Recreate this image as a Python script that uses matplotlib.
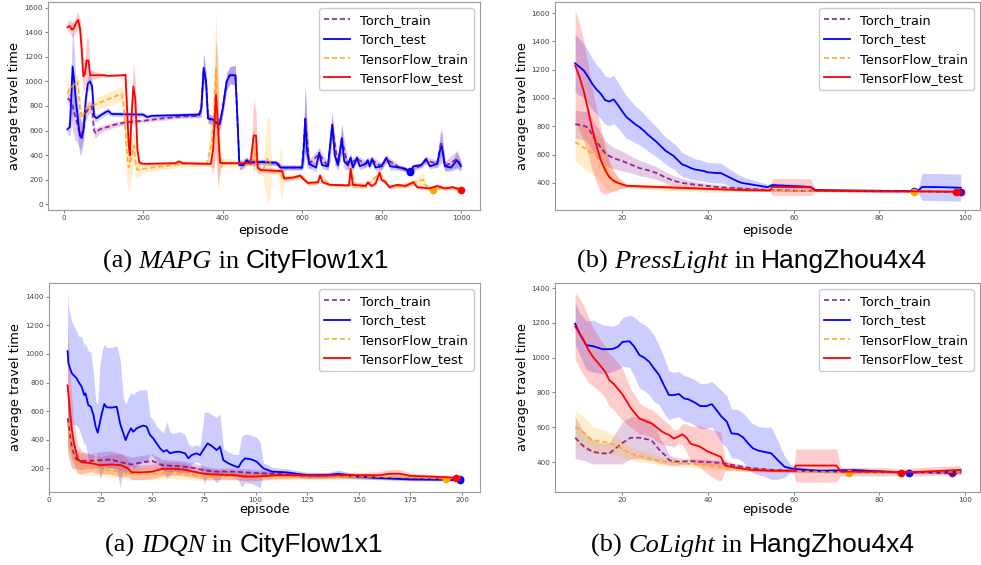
import matplotlib
matplotlib.use('Agg')
import matplotlib.pyplot as plt

# ---- data: (episode, mean, spread) ----
labels = ['Torch_train', 'Torch_test', 'TensorFlow_train', 'TensorFlow_test']
colors = ['purple', 'blue', 'orange', 'red']
styles = ['--', '-', '--', '-']

mapg_torch_train = [(9, 860, 40), (15, 850, 60), (22, 800, 200), (28, 720, 200), (35, 640, 150),
                    (42, 560, 120), (48, 600, 80), (55, 740, 60), (62, 780, 50), (70, 800, 40),
                    (76, 600, 40), (80, 580, 40), (90, 610, 30), (100, 620, 25), (130, 650, 20),
                    (160, 670, 20), (200, 680, 15), (250, 700, 15), (300, 715, 15), (340, 720, 15),
                    (346, 760, 50), (352, 1100, 120), (358, 1000, 80), (363, 700, 40), (385, 660, 40),
                    (392, 650, 50), (400, 780, 60), (410, 1000, 70), (418, 1050, 70), (432, 1050, 80),
                    (437, 700, 60), (442, 320, 40), (460, 350, 30), (500, 345, 20), (540, 330, 20),
                    (548, 300, 20), (600, 300, 20), (608, 690, 280), (618, 330, 40), (643, 410, 50),
                    (665, 310, 30), (676, 640, 90), (690, 320, 40), (700, 530, 120), (715, 320, 40),
                    (738, 370, 30), (760, 330, 30), (776, 360, 30), (800, 310, 30), (812, 370, 30),
                    (845, 300, 20), (872, 270, 20), (900, 320, 20), (912, 360, 30), (940, 330, 30),
                    (950, 510, 120), (960, 310, 40), (990, 370, 70), (1000, 320, 40)]
mapg_torch_test = [(9, 610, 40), (15, 630, 80), (19, 900, 250), (22, 1120, 380), (26, 1000, 250),
                   (30, 850, 150), (35, 700, 150), (40, 560, 160), (45, 540, 120), (50, 620, 100),
                   (55, 850, 80), (60, 980, 60), (66, 1000, 60), (71, 960, 60), (76, 720, 40),
                   (82, 700, 30), (95, 730, 25), (105, 750, 25), (112, 760, 25), (120, 735, 20),
                   (200, 730, 20), (210, 710, 15), (220, 720, 15), (280, 725, 15), (340, 730, 20),
                   (346, 780, 60), (352, 1110, 120), (358, 1000, 80), (363, 700, 40), (375, 690, 30),
                   (385, 660, 40), (392, 650, 50), (400, 780, 60), (410, 1000, 70), (418, 1050, 70),
                   (432, 1050, 80), (437, 700, 60), (442, 320, 40), (452, 320, 30), (460, 360, 30),
                   (468, 340, 20), (500, 345, 20), (535, 340, 20), (545, 300, 20), (600, 300, 20),
                   (604, 450, 150), (608, 700, 280), (612, 450, 150), (618, 330, 40), (635, 300, 30),
                   (643, 420, 50), (650, 320, 30), (665, 310, 30), (671, 500, 150), (676, 650, 90),
                   (682, 400, 80), (690, 320, 40), (700, 540, 120), (706, 350, 60), (715, 320, 40),
                   (722, 380, 40), (728, 300, 30), (738, 380, 30), (745, 310, 30), (760, 330, 30),
                   (765, 360, 30), (770, 310, 30), (776, 370, 30), (785, 300, 30), (800, 310, 30),
                   (812, 380, 30), (822, 310, 30), (845, 300, 20), (860, 290, 20), (872, 260, 20),
                   (880, 310, 20), (900, 320, 20), (912, 370, 30), (922, 310, 20), (940, 330, 30),
                   (948, 450, 120), (952, 470, 130), (960, 310, 40), (975, 300, 30), (990, 360, 70),
                   (1000, 310, 40)]
mapg_tf_train = [(9, 900, 80), (15, 950, 80), (22, 960, 80), (30, 990, 60), (35, 1000, 60),
                 (40, 800, 80), (45, 700, 80), (55, 780, 60), (70, 800, 50), (100, 840, 50),
                 (130, 880, 60), (145, 900, 60), (150, 820, 100), (155, 600, 200), (158, 450, 250),
                 (163, 300, 200), (170, 380, 150), (176, 480, 150), (180, 350, 120), (185, 280, 60),
                 (200, 290, 30), (250, 310, 25), (300, 330, 25), (360, 330, 20), (372, 500, 200),
                 (378, 700, 400), (383, 1100, 500), (388, 500, 400), (395, 340, 40), (470, 330, 20),
                 (476, 480, 150), (480, 450, 150), (485, 300, 40), (500, 270, 20), (512, 370, 340),
                 (518, 370, 340), (524, 270, 30), (540, 270, 30), (545, 280, 190), (549, 220, 190),
                 (555, 210, 30), (600, 230, 20), (615, 170, 20), (640, 180, 20), (645, 230, 20),
                 (670, 160, 15), (720, 155, 15), (724, 280, 120), (730, 160, 20), (760, 150, 15),
                 (795, 250, 25), (820, 145, 15), (860, 155, 20), (880, 180, 20), (905, 200, 60),
                 (912, 150, 20), (930, 120, 15), (960, 140, 15), (1000, 125, 15)]
mapg_tf_test = [(9, 1440, 40), (15, 1450, 50), (20, 1420, 60), (25, 1430, 60), (30, 1470, 60),
                (36, 1500, 70), (41, 1420, 70), (45, 1250, 150), (49, 1040, 150), (53, 1060, 100),
                (57, 1170, 180), (62, 1170, 180), (66, 1050, 40), (100, 1050, 15), (110, 1045, 10),
                (150, 1050, 10), (155, 1055, 15), (158, 850, 150), (163, 500, 150), (166, 400, 100),
                (170, 700, 120), (175, 960, 200), (180, 850, 150), (185, 450, 80), (190, 340, 20),
                (200, 330, 10), (280, 335, 10), (290, 350, 10), (300, 335, 10), (370, 330, 10),
                (376, 450, 200), (383, 890, 480), (388, 650, 500), (393, 340, 60), (400, 335, 10),
                (470, 335, 10), (475, 480, 150), (478, 560, 300), (484, 560, 200), (488, 300, 60),
                (495, 280, 20), (550, 270, 20), (555, 210, 20), (580, 220, 15), (595, 235, 15),
                (605, 200, 15), (615, 175, 15), (640, 180, 15), (645, 235, 20), (652, 180, 15),
                (670, 160, 10), (718, 155, 10), (722, 290, 130), (728, 160, 30), (760, 150, 15),
                (765, 180, 20), (775, 150, 15), (785, 170, 20), (795, 260, 25), (800, 200, 20),
                (810, 180, 20), (820, 140, 15), (840, 160, 15), (860, 150, 15), (880, 180, 20),
                (890, 140, 15), (920, 130, 15), (940, 150, 20), (960, 130, 15), (980, 140, 15),
                (1000, 120, 15)]

press_torch_train = [(9, 815, 100), (11, 805, 100), (12, 790, 110), (13, 740, 110), (14, 690, 110),
                     (15, 650, 100), (16, 610, 90), (17, 590, 80), (18, 575, 75), (20, 555, 70),
                     (22, 530, 60), (24, 505, 55), (26, 490, 50), (28, 470, 45), (30, 440, 40),
                     (32, 415, 35), (34, 400, 30), (36, 392, 25), (38, 385, 20), (42, 372, 15),
                     (48, 360, 10), (55, 350, 8), (60, 346, 6), (70, 343, 5), (80, 341, 5),
                     (90, 340, 5), (99, 335, 5)]
press_torch_test = [(9, 1245, 200), (10, 1220, 200), (11, 1195, 190), (12, 1150, 185), (13, 1100, 180),
                    (14, 1060, 175), (15, 1030, 175), (16, 985, 170), (17, 975, 170), (18, 990, 170),
                    (19, 950, 160), (20, 905, 155), (21, 865, 150), (22, 840, 140), (23, 815, 130),
                    (24, 795, 125), (25, 770, 120), (26, 740, 115), (27, 715, 110), (28, 690, 105),
                    (29, 660, 100), (30, 630, 95), (31, 610, 95), (32, 590, 90), (33, 560, 90),
                    (34, 530, 85), (35, 520, 80), (36, 505, 80), (37, 495, 75), (38, 490, 75),
                    (39, 485, 70), (40, 475, 70), (42, 470, 70), (43, 470, 70), (44, 455, 65),
                    (45, 440, 60), (46, 425, 55), (47, 410, 50), (48, 400, 45), (50, 390, 35),
                    (52, 380, 28), (54, 370, 20), (55, 385, 15), (58, 380, 15), (62, 375, 15),
                    (64, 370, 15), (65, 350, 10), (70, 348, 8), (80, 345, 8), (88, 343, 8),
                    (89, 345, 8), (90, 372, 95), (95, 370, 95), (99, 366, 95)]
press_tf_train = [(9, 690, 140), (10, 670, 140), (12, 630, 150), (14, 590, 150), (15, 560, 160),
                  (16, 510, 150), (17, 450, 110), (18, 410, 70), (19, 395, 40), (20, 385, 25),
                  (21, 380, 15), (25, 375, 20), (30, 370, 25), (35, 365, 25), (40, 360, 25),
                  (43, 355, 20), (50, 350, 6), (60, 345, 5), (70, 343, 5), (80, 341, 5),
                  (88, 338, 5), (95, 340, 5), (99, 340, 5)]
press_tf_test = [(9, 1230, 390), (10, 1150, 380), (11, 1050, 350), (12, 920, 320), (13, 780, 290),
                 (14, 660, 260), (15, 560, 230), (16, 490, 170), (17, 440, 110), (18, 415, 70),
                 (19, 400, 45), (20, 390, 25), (21, 380, 12), (25, 375, 10), (30, 370, 10),
                 (40, 358, 8), (50, 348, 8), (54.5, 347, 8), (55, 372, 60), (64, 370, 60),
                 (65, 346, 8), (80, 341, 5), (90, 341, 5), (98, 339, 5), (99, 340, 5)]

idqn_torch_train = [(9, 550, 250), (10, 450, 200), (11, 350, 150), (12, 300, 100), (13, 265, 70),
                    (15, 250, 60), (20, 250, 50), (25, 255, 60), (30, 260, 60), (35, 240, 60),
                    (40, 225, 50), (45, 240, 50), (50, 250, 50), (55, 220, 40), (60, 215, 40),
                    (65, 210, 40), (70, 200, 35), (75, 185, 30), (80, 175, 25), (90, 175, 25),
                    (100, 165, 25), (110, 160, 20), (125, 145, 15), (140, 150, 15), (150, 140, 15),
                    (160, 132, 12), (175, 125, 10), (190, 122, 8), (199, 120, 8)]
idqn_torch_test = [(9, 1020, 420), (9.4, 935, 400), (11, 865, 360), (13.4, 830, 330), (14.2, 806, 320),
                   (15.8, 771, 350), (17.1, 712, 350), (17.7, 724, 350), (19, 642, 380), (20.3, 630, 380),
                   (21.5, 572, 300), (22.6, 490, 180), (23.6, 448, 200), (24.7, 525, 400), (25.8, 595, 430),
                   (26.8, 649, 420), (27.9, 626, 420), (30.3, 624, 420), (32.8, 630, 430), (34.4, 514, 450),
                   (36, 443, 250), (37.1, 396, 250), (38.4, 443, 250), (39.7, 479, 250), (40.8, 455, 260),
                   (42.5, 479, 260), (44.1, 490, 260), (45.7, 498, 250), (47.3, 490, 260), (48.9, 432, 130),
                   (50.5, 408, 130), (52.1, 373, 120), (53.8, 338, 130), (55.4, 315, 130), (57, 326, 200),
                   (58.6, 303, 150), (60.2, 310, 130), (62.7, 315, 140), (64.3, 310, 140), (65.9, 303, 130),
                   (67.5, 268, 100), (69.1, 291, 60), (71.5, 303, 60), (73.1, 291, 60), (75.2, 338, 250),
                   (76.8, 373, 220), (78.8, 355, 220), (81.2, 326, 230), (82.8, 350, 230), (84.4, 256, 80),
                   (86.9, 233, 80), (89.3, 217, 80), (91.7, 205, 90), (93.3, 244, 180), (94.9, 268, 170),
                   (97.3, 263, 170), (98.9, 256, 170), (100.6, 244, 170), (102.2, 221, 160), (103.8, 198, 40),
                   (108, 175, 30), (115, 170, 25), (125, 150, 20), (135, 150, 20), (140, 160, 25),
                   (150, 140, 15), (160, 130, 12), (175, 120, 10), (190, 118, 8), (199, 115, 8)]
idqn_tf_train = [(9, 520, 200), (10, 400, 150), (11, 320, 120), (12, 270, 90), (14, 230, 70),
                 (20, 200, 50), (25, 195, 50), (30, 180, 45), (35, 175, 45), (40, 160, 40),
                 (50, 160, 40), (60, 165, 40), (70, 150, 35), (75, 140, 30), (90, 145, 30),
                 (100, 140, 25), (125, 140, 20), (150, 140, 20), (175, 135, 15), (192, 125, 10),
                 (199, 128, 10)]
idqn_tf_test = [(9, 780, 420), (10, 620, 300), (11, 480, 220), (12, 380, 150), (13, 320, 120),
                (14, 260, 100), (16, 240, 80), (20, 235, 60), (25, 220, 60), (30, 225, 70),
                (35, 220, 80), (38, 200, 60), (40, 170, 50), (45, 170, 50), (50, 175, 50),
                (55, 195, 50), (60, 195, 45), (65, 190, 45), (70, 175, 40), (75, 160, 40),
                (80, 155, 35), (90, 150, 30), (95, 140, 30), (100, 140, 30), (110, 150, 25),
                (120, 150, 20), (130, 145, 20), (140, 150, 20), (150, 150, 20), (160, 150, 25),
                (165, 160, 30), (170, 160, 30), (175, 145, 20), (185, 140, 15), (197, 132, 10),
                (199, 135, 10)]

colight_torch_train = [(9, 540, 120), (11, 490, 80), (13, 460, 70), (15, 450, 60), (17, 450, 60),
                       (18, 470, 80), (19, 490, 100), (20, 510, 120), (22, 540, 120), (24, 540, 120),
                       (26, 530, 120), (27, 520, 110), (28, 490, 90), (29, 460, 70), (30, 440, 50),
                       (31, 410, 30), (33, 402, 20), (36, 405, 15), (40, 400, 15), (43, 395, 15),
                       (50, 365, 10), (55, 355, 8), (60, 350, 8), (70, 345, 6), (80, 343, 6),
                       (90, 342, 6), (97, 335, 6), (99, 338, 6)]
colight_torch_test = [(9, 1195, 120), (10, 1140, 120), (11.6, 1072, 140), (13.2, 1066, 150), (15.5, 1048, 140),
                      (17.8, 1050, 130), (19, 1063, 130), (20.1, 1091, 140), (21.7, 1094, 150), (22.8, 1063, 170),
                      (24, 1015, 190), (25.1, 1000, 190), (26.3, 976, 190), (27.4, 938, 190), (28.6, 900, 170),
                      (29.7, 843, 160), (30.9, 785, 140), (32, 785, 130), (33.2, 791, 130), (34.4, 766, 130),
                      (35.5, 760, 130), (37, 741, 130), (38.2, 722, 130), (39.7, 722, 130), (40.9, 733, 130),
                      (42, 699, 140), (43.2, 660, 150), (44.4, 632, 150), (45.5, 565, 140), (47, 561, 140),
                      (48.2, 542, 140), (49.4, 507, 140), (50.5, 479, 140), (51.7, 466, 140), (52.9, 460, 140),
                      (54.8, 450, 150), (56.3, 411, 110), (57.9, 373, 60), (59.4, 363, 20), (63.3, 354, 10),
                      (66.3, 350, 10), (74, 354, 10), (81.7, 345, 8), (87, 340, 8), (92, 343, 8),
                      (99, 345, 8)]
colight_tf_train = [(9, 600, 100), (11, 570, 90), (13, 525, 80), (15, 520, 70), (17, 510, 60),
                    (19, 490, 55), (21, 460, 45), (23, 440, 35), (26, 425, 30), (29, 405, 25),
                    (33, 395, 20), (38, 385, 18), (43, 370, 15), (50, 355, 10), (60, 348, 8),
                    (73, 340, 6), (80, 342, 6), (90, 343, 6), (99, 344, 6)]
colight_tf_test = [(9, 1180, 190), (10, 1140, 200), (11, 1100, 200), (12, 1050, 190), (13, 1010, 170),
                   (14, 980, 160), (15, 950, 150), (16, 920, 150), (17, 870, 150), (18, 850, 150),
                   (19, 820, 150), (20, 790, 150), (21, 750, 130), (22, 710, 110), (23, 680, 100),
                   (24, 650, 90), (25, 640, 80), (26, 630, 80), (27, 620, 80), (28, 600, 80),
                   (29, 580, 75), (30, 565, 70), (31, 555, 60), (32, 535, 50), (33, 545, 40),
                   (34, 560, 60), (35, 540, 80), (36, 505, 100), (38, 490, 120), (40, 460, 130),
                   (42, 440, 140), (43, 430, 140), (44, 380, 30), (46, 370, 15), (50, 355, 10),
                   (55, 350, 8), (60, 350, 8), (60.5, 380, 95), (70, 380, 95), (71, 345, 25),
                   (80, 345, 25), (85, 340, 20), (90, 345, 25), (99, 355, 25)]

W, H = 981, 565
fig = plt.figure(figsize=(W / 100, H / 100), dpi=100)


def px_axes(l, t, r, b):
    return fig.add_axes([l / W, 1 - b / H, (r - l) / W, (b - t) / H])


def draw(ax, series, xlim, ylim, xticks, yticks, xlab_y):
    for rows, lab, c, ls in zip(series, labels, colors, styles):
        x = [r[0] for r in rows]
        y = [r[1] for r in rows]
        lo = [r[1] - r[2] for r in rows]
        hi = [r[1] + r[2] for r in rows]
        ax.fill_between(x, lo, hi, color=c, alpha=0.2, lw=0)
        dash = (0, (2.8, 1.6)) if ls == '--' else '-'
        ax.plot(x, y, color=c, ls=dash, lw=1.3, label=lab, alpha=0.8 if ls == '--' else 1)
        best = min(range(len(y)), key=lambda i: y[i])
        ax.plot(x[best], y[best], 'o', color=c, ms=4.5)
    ax.set_xlim(*xlim)
    ax.set_ylim(*ylim)
    ax.set_xticks(xticks)
    ax.set_yticks(yticks)
    ax.tick_params(labelsize=5.2, length=2, pad=1.5, colors='#444444', color='#888888')
    for s in ax.spines.values():
        s.set_color('#999999')
        s.set_linewidth(0.8)
    ax.set_xlabel('episode', fontsize=9.3)
    ax.set_ylabel('average travel time', fontsize=9.3, va='center')
    ax.xaxis.set_label_coords(0.5, xlab_y)
    ax.yaxis.set_label_coords(-0.077, 0.5)
    ax.legend(loc='upper right', fontsize=9.3, framealpha=1, edgecolor='#cccccc')


ax1 = px_axes(48, 2, 480, 210)
draw(ax1, [mapg_torch_train, mapg_torch_test, mapg_tf_train, mapg_tf_test],
     (-40, 1048), (-45, 1645), range(0, 1001, 200), range(0, 1601, 200), -0.065)
ax2 = px_axes(555, 2, 980, 210)
draw(ax2, [press_torch_train, press_torch_test, press_tf_train, press_tf_test],
     (4.3, 103.5), (209, 1678), range(20, 101, 20), range(400, 1601, 200), -0.065)
ax3 = px_axes(49, 283, 480, 492)
draw(ax3, [idqn_torch_train, idqn_torch_test, idqn_tf_train, idqn_tf_test],
     (0, 208.7), (32, 1498), range(0, 201, 25), range(200, 1401, 200), -0.055)
ax4 = px_axes(555, 283, 980, 492)
draw(ax4, [colight_torch_train, colight_torch_test, colight_tf_train, colight_tf_test],
     (4.3, 103.5), (228, 1429), range(20, 101, 20), range(400, 1401, 200), -0.055)

# captions: Times-like for the letter and method, Arial-like for dataset name
serif = 'Liberation Serif'
sans = 'Liberation Sans'
cap_size = 19


def caption(cx, base_y, parts):
    r = fig.canvas.get_renderer()
    items = []
    for s, fam, style in parts:
        t = fig.text(0, 1 - base_y / H, s, fontsize=cap_size, family=fam, style=style, va='baseline')
        items.append(t)
    widths = [t.get_window_extent(r).width for t in items]
    x = cx - sum(widths) / 2
    for t, w in zip(items, widths):
        t.set_x(x / W)
        x += w


caption(246, 268, [('(a) ', serif, 'normal'), ('MAPG', serif, 'italic'), (' in ', serif, 'normal'),
                   ('CityFlow1x1', sans, 'normal')])
caption(752, 268, [('(b) ', serif, 'normal'), ('PressLight', serif, 'italic'), (' in ', serif, 'normal'),
                   ('HangZhou4x4', sans, 'normal')])
caption(244, 552, [('(a) ', serif, 'normal'), ('IDQN', serif, 'italic'), (' in ', serif, 'normal'),
                   ('CityFlow1x1', sans, 'normal')])
caption(753, 552, [('(b) ', serif, 'normal'), ('CoLight', serif, 'italic'), (' in ', serif, 'normal'),
                   ('HangZhou4x4', sans, 'normal')])

fig.savefig('out.png', dpi=100)
